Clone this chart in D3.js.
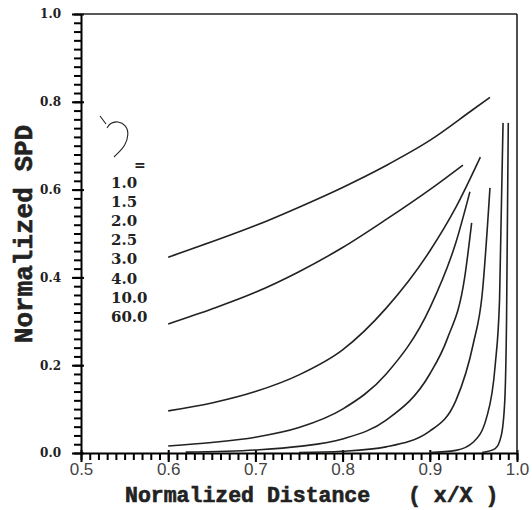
<!DOCTYPE html>
<html>
<head>
<meta charset="utf-8">
<script src="https://cdn.jsdelivr.net/npm/d3@7"></script>
<style>
  body { margin: 0; background: #fff; }
</style>
</head>
<body>
<div id="wrapper"></div>
<script>
// legend labels (gamma values), top curve first
const gammaLabels = ["1.0", "1.5", "2.0", "2.5", "3.0", "4.0", "10.0", "60.0"];

// normalized distance (x/X) and normalized SPD
const g1x = [0.6, 0.65, 0.7, 0.75, 0.8, 0.85, 0.9, 0.95, 0.969];
const g1y = [0.446, 0.481, 0.518, 0.56, 0.605, 0.655, 0.712, 0.783, 0.81];

const g15x = [0.6, 0.65, 0.7, 0.75, 0.8, 0.85, 0.9, 0.938];
const g15y = [0.294, 0.328, 0.366, 0.413, 0.468, 0.532, 0.6, 0.656];

const g2x = [0.6, 0.65, 0.7, 0.75, 0.8, 0.85, 0.9, 0.93, 0.958];
const g2y = [0.096, 0.114, 0.14, 0.178, 0.235, 0.33, 0.46, 0.56, 0.674];

const g25x = [0.6, 0.65, 0.7, 0.75, 0.8, 0.85, 0.9, 0.93, 0.946];
const g25y = [0.016, 0.024, 0.036, 0.058, 0.1, 0.18, 0.33, 0.48, 0.595];

const g3x = [0.62, 0.7, 0.75, 0.8, 0.85, 0.9, 0.92, 0.94, 0.948];
const g3y = [0.002, 0.007, 0.015, 0.032, 0.075, 0.18, 0.26, 0.4, 0.524];

const g4x = [0.75, 0.8, 0.85, 0.9, 0.93, 0.95, 0.96, 0.969];
const g4y = [0.001, 0.004, 0.014, 0.05, 0.12, 0.25, 0.36, 0.604];

const g10x = [0.9, 0.93, 0.95, 0.965, 0.975, 0.98, 0.984];
const g10y = [0.001, 0.006, 0.025, 0.08, 0.2, 0.35, 0.752];

const g60x = [0.96, 0.975, 0.982, 0.986, 0.988, 0.99];
const g60y = [0.001, 0.01, 0.04, 0.12, 0.3, 0.752];

const xMajor = [0.5, 0.6, 0.7, 0.8, 0.9, 1.0];
const yMajor = [0.0, 0.2, 0.4, 0.6, 0.8, 1.0];

const series = [
  [g1x, g1y], [g15x, g15y], [g2x, g2y], [g25x, g25y],
  [g3x, g3y], [g4x, g4y], [g10x, g10y], [g60x, g60y],
].map(([xs, ys]) => xs.map((x, i) => ({ x, y: ys[i] })));

const ink = "#222";
const serif = "'DejaVu Serif', serif";
const mono = "'Liberation Mono', 'Courier New', monospace";

let dimensions = {
  width: 532,
  height: 510,
  margin: { top: 14, right: 15, bottom: 57, left: 81 },
};
dimensions.boundedWidth = dimensions.width - dimensions.margin.left - dimensions.margin.right;
dimensions.boundedHeight = dimensions.height - dimensions.margin.top - dimensions.margin.bottom;

const svg = d3.select("#wrapper")
  .append("svg")
  .attr("width", dimensions.width)
  .attr("height", dimensions.height);

const bounds = svg.append("g")
  .attr("transform", `translate(${dimensions.margin.left},${dimensions.margin.top})`);

const xScale = d3.scaleLinear()
  .domain([0.5, 1.0])
  .range([0, dimensions.boundedWidth]);

const yScale = d3.scaleLinear()
  .domain([0, 1])
  .range([dimensions.boundedHeight, 0]);

// minor ticks, every 0.01 on x and 0.02 on y
const xMinor = d3.range(50, 101).map(d => d / 100);
const yMinor = d3.range(0, 51).map(d => d / 50);

const xMinorAxis = bounds.append("g")
  .attr("transform", `translate(0,${dimensions.boundedHeight})`)
  .call(d3.axisBottom(xScale).tickValues(xMinor).tickSize(7).tickSizeOuter(0).tickFormat(() => ""));
xMinorAxis.selectAll("line, path").attr("stroke", "#000").attr("stroke-width", 2);

const yMinorAxis = bounds.append("g")
  .call(d3.axisLeft(yScale).tickValues(yMinor).tickSize(7).tickSizeOuter(0).tickFormat(() => ""));
yMinorAxis.selectAll("line, path").attr("stroke", "#000").attr("stroke-width", 2);

// major labels
const xAxis = bounds.append("g")
  .attr("transform", `translate(0,${dimensions.boundedHeight})`)
  .call(d3.axisBottom(xScale).tickValues(xMajor).tickSize(9).tickPadding(1)
    .tickSizeOuter(0).tickFormat(d3.format(".1f")));
xAxis.select(".domain").remove();
xAxis.selectAll("line").attr("stroke", "#000").attr("stroke-width", 2).attr("y1", -3);
xAxis.selectAll("text")
  .attr("fill", "#444")
  .style("font-family", "'Liberation Sans', Arial, sans-serif")
  .style("font-size", "17px");

const yAxis = bounds.append("g")
  .call(d3.axisLeft(yScale).tickValues(yMajor).tickSize(9).tickPadding(11)
    .tickSizeOuter(0).tickFormat(d3.format(".1f")));
yAxis.select(".domain").remove();
yAxis.selectAll("line").attr("stroke", "#000").attr("stroke-width", 2).attr("x1", 3);
yAxis.selectAll("text")
  .attr("fill", ink)
  .style("font-family", serif)
  .style("font-weight", "bold")
  .style("font-size", "12px");

// top and right frame
bounds.append("line")
  .attr("x1", xScale(0.5)).attr("x2", xScale(1.0))
  .attr("y1", yScale(1)).attr("y2", yScale(1))
  .attr("stroke", ink).attr("stroke-width", 1.6);
bounds.append("line")
  .attr("x1", xScale(1.0)).attr("x2", xScale(1.0))
  .attr("y1", yScale(1)).attr("y2", yScale(0))
  .attr("stroke", ink).attr("stroke-width", 1.6);

// curves
const lineGenerator = d3.line()
  .x(d => xScale(d.x))
  .y(d => yScale(d.y))
  .curve(d3.curveMonotoneX);

bounds.append("g")
  .selectAll("path")
  .data(series)
  .join("path")
  .attr("d", lineGenerator)
  .attr("fill", "none")
  .attr("stroke", ink)
  .attr("stroke-width", 1.6);

// legend: hand drawn gamma symbol, "=", values
const symbolLine = d3.line().curve(d3.curveBasis);
svg.append("path")
  .attr("d", d3.line()([[100, 116], [106, 124]]))
  .attr("fill", "none").attr("stroke", ink).attr("stroke-width", 1.1);
svg.append("path")
  .attr("d", symbolLine([[107, 128], [110, 123], [118, 121], [126, 125], [129, 134], [125, 146], [119, 152], [114, 157]]))
  .attr("fill", "none").attr("stroke", ink).attr("stroke-width", 1.1);

svg.append("text")
  .attr("x", 134).attr("y", 170)
  .attr("fill", ink)
  .style("font-family", serif).style("font-weight", "bold").style("font-size", "14px")
  .text("=");

svg.append("g")
  .selectAll("text")
  .data(gammaLabels)
  .join("text")
  .attr("x", 111)
  .attr("y", (d, i) => 188 + i * 19.1)
  .attr("fill", ink)
  .style("font-family", serif).style("font-weight", "bold").style("font-size", "15px")
  .text(d => d);

// axis titles
const titleStyle = sel => sel
  .attr("fill", ink)
  .attr("stroke", ink)
  .attr("stroke-width", 0.6)
  .style("font-family", mono)
  .style("font-weight", "bold");

svg.append("text")
  .attr("x", 125).attr("y", 502)
  .call(titleStyle)
  .style("font-size", "21.5px")
  .text("Normalized Distance");

svg.append("text")
  .attr("x", 408).attr("y", 502)
  .call(titleStyle)
  .style("font-size", "21.5px")
  .style("white-space", "pre")
  .text("( x/X )");

svg.append("text")
  .attr("transform", "translate(32,234) rotate(-90)")
  .attr("text-anchor", "middle")
  .call(titleStyle)
  .style("font-size", "26px")
  .text("Normalized SPD");
</script>
</body>
</html>
